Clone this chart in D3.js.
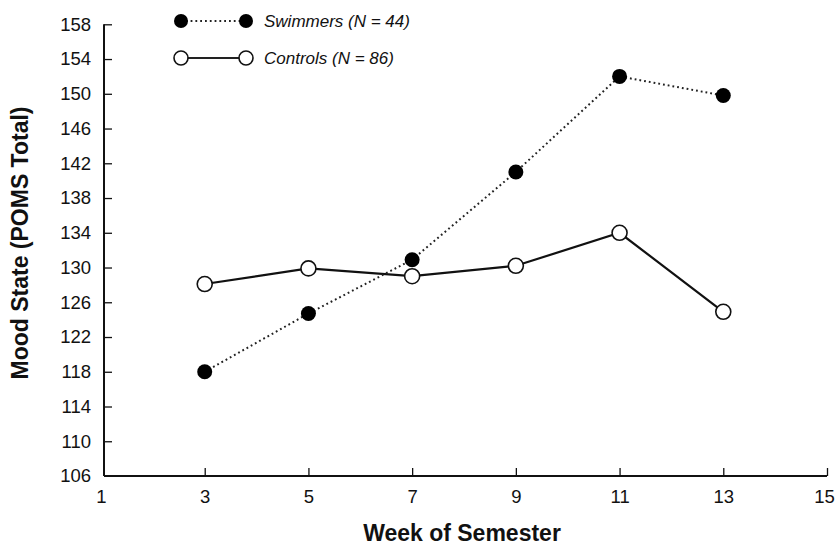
<!DOCTYPE html>
<html>
<head>
<meta charset="utf-8">
<script src="https://cdn.jsdelivr.net/npm/d3@7"></script>
<style>
  html, body { margin: 0; padding: 0; background: #fff; }
  svg { display: block; }
  text { font-family: "Liberation Sans", Arial, Helvetica, sans-serif; fill: #111; }
</style>
</head>
<body>
<svg id="chart" width="835" height="548"></svg>
<script>
const weeks = [3, 5, 7, 9, 11, 13];
const swimmers = [118.0, 124.7, 130.9, 141.0, 152.0, 149.8];
const controls = [128.1, 129.9, 129.0, 130.2, 134.0, 124.9];
const xTicks = [1, 3, 5, 7, 9, 11, 13, 15];
const yTicks = [106, 110, 114, 118, 122, 126, 130, 134, 138, 142, 146, 150, 154, 158];
const seriesNames = ["Swimmers (N = 44)", "Controls (N = 86)"];
const xTitle = "Week of Semester";
const yTitle = "Mood State (POMS Total)";

const svg = d3.select("#chart");
const axisX0 = 104;
const x = d3.scaleLinear().domain([1, 15]).range([101, 827]);
const y = d3.scaleLinear().domain([106, 158]).range([476, 24.3]);

// X axis
const gx = svg.append("g").attr("transform", `translate(0,${y(106)})`)
  .call(d3.axisBottom(x).tickValues(xTicks).tickSize(-8).tickPadding(13).tickFormat(d3.format("d")));
gx.select(".domain").attr("d", `M${axisX0},0H${x(15)}`).attr("stroke", "#111").attr("stroke-width", 2);
gx.selectAll(".tick line").attr("stroke", "#111").attr("stroke-width", 1.3);
gx.selectAll(".tick").filter(d => d === 1).select("line").remove();
gx.selectAll(".tick text").attr("font-size", 18.5).attr("fill", "#111").attr("dy", "0.75em");
gx.selectAll(".tick").filter(d => d === 15).select("text").attr("x", -3);

// Y axis
const gy = svg.append("g").attr("transform", `translate(${axisX0},0)`)
  .call(d3.axisLeft(y).tickValues(yTicks).tickSize(-8).tickPadding(13).tickFormat(d3.format("d")));
gy.select(".domain").attr("d", `M0,${y(158)}V${y(106)}`).attr("stroke", "#111").attr("stroke-width", 2);
gy.selectAll(".tick line").attr("stroke", "#111").attr("stroke-width", 1.3);
gy.selectAll(".tick").filter(d => d === 106).select("line").remove();
gy.selectAll(".tick text").attr("font-size", 18.5).attr("fill", "#111");

// Titles
svg.append("text").attr("x", 462).attr("y", 541).attr("text-anchor", "middle")
  .attr("font-size", 23).attr("font-weight", "bold").text(xTitle);
svg.append("text").attr("transform", `translate(28,243) rotate(-90)`).attr("text-anchor", "middle")
  .attr("font-size", 23).attr("font-weight", "bold").text(yTitle);

// Lines
const line = d3.line().x((d, i) => x(weeks[i])).y(d => y(d));
svg.append("path").datum(controls).attr("d", line).attr("fill", "none")
  .attr("stroke", "#111").attr("stroke-width", 2.2);
svg.append("path").datum(swimmers).attr("d", line).attr("fill", "none")
  .attr("stroke", "#222").attr("stroke-width", 2).attr("stroke-dasharray", "1.8,3");

// Markers
svg.append("g").selectAll("circle").data(controls).join("circle")
  .attr("cx", (d, i) => x(weeks[i])).attr("cy", d => y(d)).attr("r", 7.5)
  .attr("fill", "#fff").attr("stroke", "#111").attr("stroke-width", 1.6);
svg.append("g").selectAll("circle").data(swimmers).join("circle")
  .attr("cx", (d, i) => x(weeks[i])).attr("cy", d => y(d)).attr("r", 7.5)
  .attr("fill", "#000");

// Legend
const legend = svg.append("g");
const rows = [
  { name: seriesNames[0], y: 21, filled: true, dash: "1.8,3", sw: 2 },
  { name: seriesNames[1], y: 58, filled: false, dash: null, sw: 2 }
];
rows.forEach(r => {
  legend.append("line").attr("x1", 181).attr("x2", 246).attr("y1", r.y).attr("y2", r.y)
    .attr("stroke", "#222").attr("stroke-width", r.sw).attr("stroke-dasharray", r.dash);
  [181, 246].forEach(cx => {
    legend.append("circle").attr("cx", cx).attr("cy", r.y).attr("r", 7)
      .attr("fill", r.filled ? "#000" : "#fff").attr("stroke", "#111").attr("stroke-width", r.filled ? 0 : 1.6);
  });
  legend.append("text").attr("x", 264).attr("y", r.y).attr("dy", "0.35em")
    .attr("font-size", 17).attr("font-style", "italic").text(r.name);
});
</script>
</body>
</html>
